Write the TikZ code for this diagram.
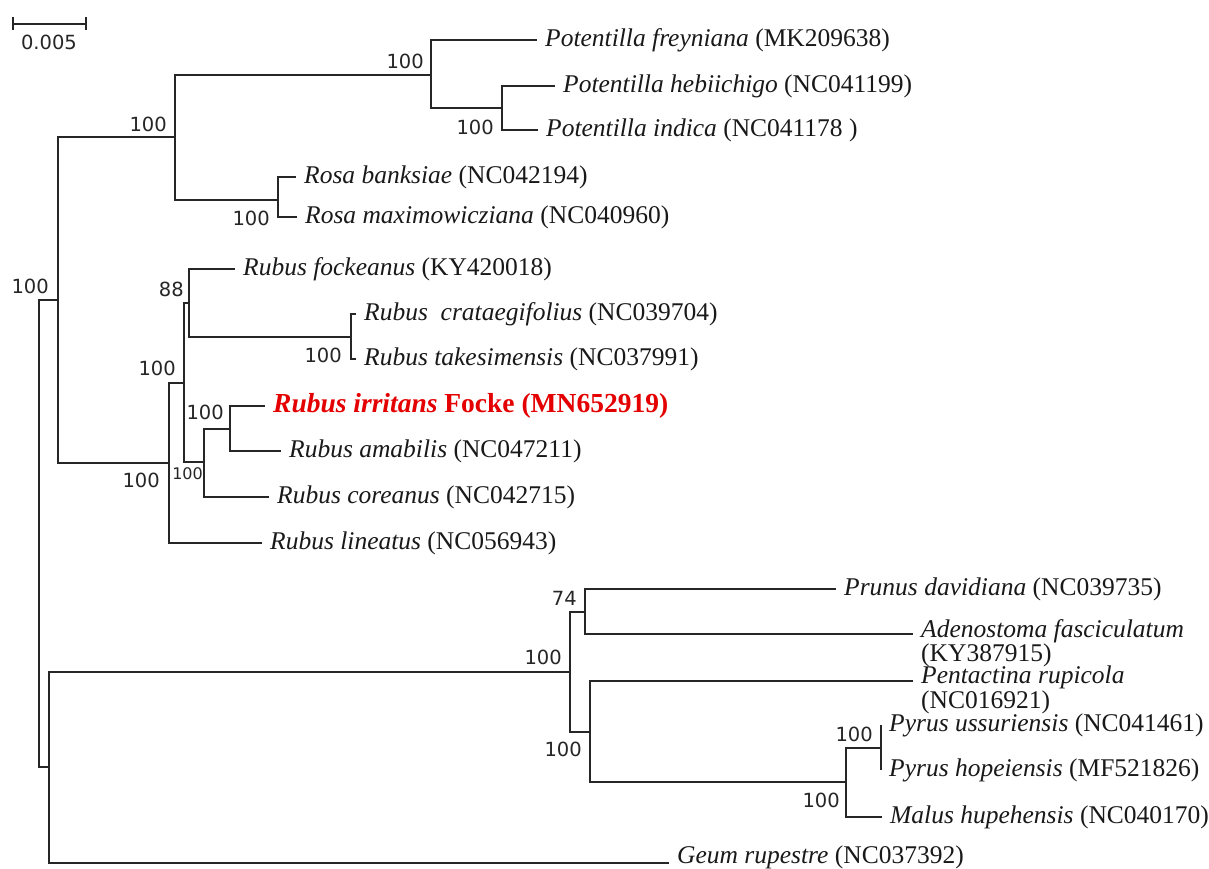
\documentclass[tikz,border=0pt]{standalone}
\usepackage{fontspec}
\setmainfont{Liberation Serif}
\newfontfamily\bootfont{DejaVu Sans}
\definecolor{hilite}{RGB}{228,0,0}

\begin{document}
\begin{tikzpicture}[x=1pt,y=-1pt,
    branch/.style={line width=1.7pt, draw=black!85},
    leaf/.style={anchor=west, inner xsep=8pt, inner ysep=0pt, text=black!90,
      font=\fontsize{25.5}{24.5}\selectfont},
    boot/.style={anchor=east, inner sep=0pt, text=black!85,
      font=\bootfont\fontsize{19.5}{22}\selectfont}]
  \useasboundingbox[fill=white] (0,0) rectangle (1209,869);

  % Skala
  \coordinate (sbl) at (13,24);
  \coordinate (sbr) at (86,24);
  \draw[branch] (sbl) -- (sbr);
  \draw[branch] ([yshift=7pt]sbl) -- ([yshift=-6pt]sbl);
  \draw[branch] ([yshift=7pt]sbr) -- ([yshift=-6pt]sbr);
  \node[boot, anchor=center] (sbt) at (49,42) {0.005};

  % innere Knoten
  \coordinate (root) at (39,533);
  \coordinate (rosd) at (58,300);
  \coordinate (potros) at (175,137);
  \coordinate (pot) at (431,75);
  \coordinate (potsub) at (502,108);
  \coordinate (ros) at (278,200);
  \coordinate (rub) at (169,463);
  \coordinate (rubA) at (184,383);
  \coordinate (rubB) at (189,303);
  \coordinate (rct) at (351,337);
  \coordinate (rubC) at (204,462);
  \coordinate (rir) at (230,429);
  \coordinate (oth) at (49,767);
  \coordinate (mal) at (570,672);
  \coordinate (prn) at (585,612);
  \coordinate (pen) at (590,732);
  \coordinate (pyr) at (846,782);
  \coordinate (pyp) at (881,748);
  \coordinate (adeT) at (913,634);
  \coordinate (pntT) at (913,681);
  \coordinate (geuT) at (669,863);

  % Blaetter
  \node[leaf] (pfre) at (537,40) {\textit{Potentilla freyniana} (MK209638)};
  \node[leaf] (phe) at (555,86) {\textit{Potentilla hebiichigo} (NC041199)};
  \node[leaf] (pin) at (538,130) {\textit{Potentilla indica} (NC041178~)};
  \node[leaf] (rba) at (296,177) {\textit{Rosa banksiae} (NC042194)};
  \node[leaf] (rma) at (297,217) {\textit{Rosa maximowicziana} (NC040960)};
  \node[leaf] (rfo) at (235,269) {\textit{Rubus fockeanus} (KY420018)};
  \node[leaf] (rcr) at (356,314) {\textit{Rubus~~crataegifolius} (NC039704)};
  \node[leaf] (rta) at (356,359) {\textit{Rubus takesimensis} (NC037991)};
  \node[leaf, text=hilite, font=\fontsize{27.5}{28}\selectfont] (irr) at (265,406)
    {\textbf{\textit{Rubus irritans} Focke (MN652919)}};
  \node[leaf] (ram) at (281,451) {\textit{Rubus amabilis} (NC047211)};
  \node[leaf] (rco) at (269,497) {\textit{Rubus coreanus} (NC042715)};
  \node[leaf] (rli) at (262,543) {\textit{Rubus lineatus} (NC056943)};
  \node[leaf] (pda) at (836,589) {\textit{Prunus davidiana} (NC039735)};
  \node[leaf, align=left] (ade) at (913,643) {\textit{Adenostoma fasciculatum}\\(KY387915)};
  \node[leaf, align=left] (pnt) at (913,690) {\textit{Pentactina rupicola}\\(NC016921)};
  \node[leaf] (pus) at (881,725) {\textit{Pyrus ussuriensis} (NC041461)};
  \node[leaf] (pho) at (881,770) {\textit{Pyrus hopeiensis} (MF521826)};
  \node[leaf] (mhu) at (882,817) {\textit{Malus hupehensis} (NC040170)};
  \node[leaf] (geu) at (669,857) {\textit{Geum rupestre} (NC037392)};

  % Aeste
  \draw[branch] (root) |- (rosd);
  \draw[branch] (root) |- (oth);
  \draw[branch] (rosd) |- (potros);
  \draw[branch] (rosd) |- (rub);
  \draw[branch] (potros) |- (pot);
  \draw[branch] (potros) |- (ros);
  \draw[branch] (pot) |- (pfre.west);
  \draw[branch] (pot) |- (potsub);
  \draw[branch] (potsub) |- (phe.west);
  \draw[branch] (potsub) |- (pin.west);
  \draw[branch] (ros) |- (rba.west);
  \draw[branch] (ros) |- (rma.west);
  \draw[branch] (rub) |- (rubA);
  \draw[branch] (rub) |- (rli.west);
  \draw[branch] (rubA) |- (rubB);
  \draw[branch] (rubA) |- (rubC);
  \draw[branch] (rubB) |- (rfo.west);
  \draw[branch] (rubB) |- (rct);
  \draw[branch] (rct) |- (rcr.west);
  \draw[branch] (rct) |- (rta.west);
  \draw[branch] (rubC) |- (rir);
  \draw[branch] (rubC) |- (rco.west);
  \draw[branch] (rir) |- (irr.west);
  \draw[branch] (rir) |- (ram.west);
  \draw[branch] (oth) |- (mal);
  \draw[branch] (oth) |- (geuT);
  \draw[branch] (mal) |- (prn);
  \draw[branch] (mal) |- (pen);
  \draw[branch] (prn) |- (pda.west);
  \draw[branch] (prn) |- (adeT);
  \draw[branch] (pen) |- (pntT);
  \draw[branch] (pen) |- (pyr);
  \draw[branch] (pyr) |- (pyp);
  \draw[branch] (pyr) |- (mhu.west);
  \draw[branch] (pyp) |- (pus.west);
  \draw[branch] (pyp) |- (pho.west);

  % Bootstrap
  \node[boot] (bpot) at (424,61) {100};
  \node[boot] (bpsub) at (494,127) {100};
  \node[boot] (bpr) at (167,124) {100};
  \node[boot] (bros) at (270,218) {100};
  \node[boot] (brosd) at (49,286) {100};
  \node[boot] (brub) at (160,480) {100};
  \node[boot] (brubA) at (176,368) {100};
  \node[boot] (brubB) at (184,289) {88};
  \node[boot] (brct) at (342,355) {100};
  \node[boot, font=\bootfont\fontsize{16}{18}\selectfont] (brubC) at (203,474) {100};
  \node[boot] (brir) at (224,412) {100};
  \node[boot] (bmal) at (562,657) {100};
  \node[boot] (bprn) at (577,598) {74};
  \node[boot] (bpen) at (582,749) {100};
  \node[boot] (bpyr) at (840,800) {100};
  \node[boot] (bpyp) at (873,734) {100};
\end{tikzpicture}
\end{document}
